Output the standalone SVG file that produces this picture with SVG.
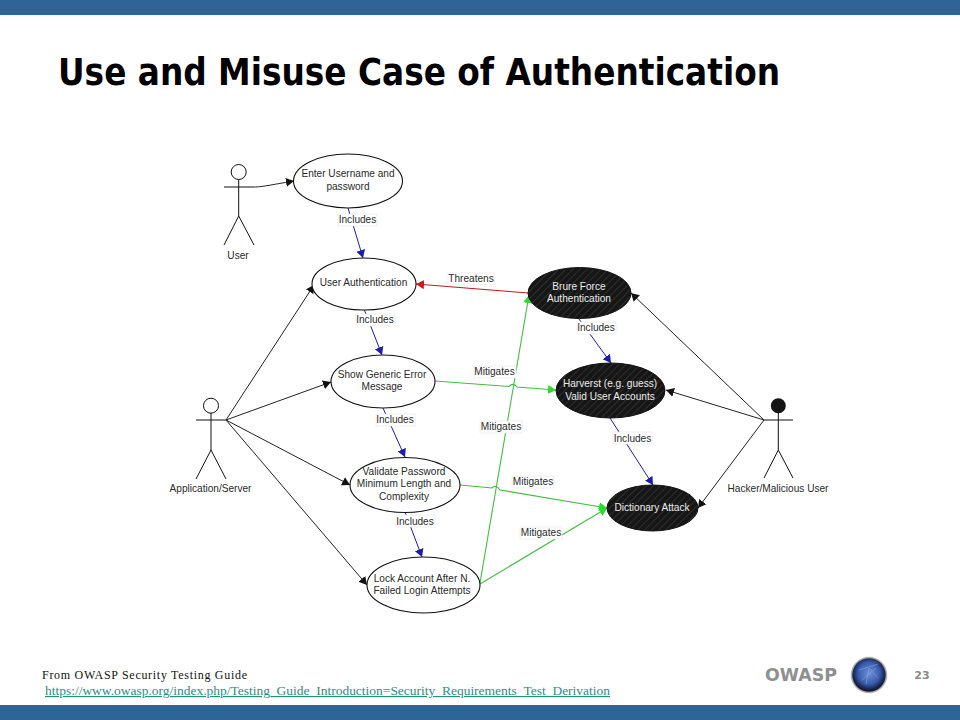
<svg xmlns="http://www.w3.org/2000/svg" width="960" height="720" viewBox="0 0 960 720">
<style>
text{font-family:"Liberation Sans",Arial,sans-serif;font-size:10.1px;fill:#2a2a2a;text-anchor:middle}
.u{fill:#fff;stroke:#111;stroke-width:1.1}
.m{fill:url(#hatch);stroke:#111;stroke-width:1}
.w{fill:#ececec}
.a{fill:none;stroke:#111;stroke-width:1}
.k{fill:none;stroke:#222;stroke-width:1;marker-end:url(#ak)}
.b{fill:none;stroke:#1c1ca8;stroke-width:1;marker-end:url(#ab)}
.g{fill:none;stroke:#45bb45;stroke-width:1.100;marker-end:url(#ag)}
.r{fill:none;stroke:#b81c1c;stroke-width:1;marker-end:url(#ar)}
.lb{fill:#fff;stroke:#e4e4e4;stroke-width:.6}
</style>
<defs>
<pattern id="hatch" width="5" height="5" patternUnits="userSpaceOnUse" patternTransform="rotate(45)">
<rect width="5" height="5" fill="#161616"/><rect width="1" height="5" fill="#2e2e2e"/>
</pattern>
<marker id="ak" markerWidth="9" markerHeight="10" refX="8" refY="5" orient="auto" markerUnits="userSpaceOnUse"><path d="M0 .5L8 5L0 9.500Z" fill="#111"/></marker>
<marker id="ab" markerWidth="9" markerHeight="10" refX="8" refY="5" orient="auto" markerUnits="userSpaceOnUse"><path d="M0 .5L8 5L0 9.500Z" fill="#1c1ca8"/></marker>
<marker id="ag" markerWidth="9" markerHeight="10" refX="8" refY="5" orient="auto" markerUnits="userSpaceOnUse"><path d="M0 .5L8 5L0 9.500Z" fill="#2bdc2b"/></marker>
<marker id="ar" markerWidth="9" markerHeight="10" refX="8" refY="5" orient="auto" markerUnits="userSpaceOnUse"><path d="M0 .5L8 5L0 9.500Z" fill="#d01818"/></marker>
<radialGradient id="globe" cx="50%" cy="45%" r="55%"><stop offset="0" stop-color="#6f8fd8"/><stop offset=".6" stop-color="#3a5cac"/><stop offset=".88" stop-color="#17234f"/><stop offset="1" stop-color="#0c1024"/></radialGradient>
<radialGradient id="halo" cx="50%" cy="50%" r="50%"><stop offset=".85" stop-color="#555"/><stop offset="1" stop-color="#ddd"/></radialGradient>
</defs>
<rect width="960" height="720" fill="#fff"/>
<rect id="top-bar" width="960" height="15" fill="#2f6497"/>
<rect id="bottom-bar" y="705" width="960" height="15" fill="#2f6497"/>
<text id="title" x="58" y="85" textLength="722" lengthAdjust="spacingAndGlyphs" style="font-family:'DejaVu Sans',sans-serif;font-size:36.500px;font-weight:bold;fill:#000;text-anchor:start">Use and Misuse Case of Authentication</text>

<g id="connectors">
<path class="k" d="M254 187C262 187 270 185 294 181"/>
<path class="k" d="M226 420L314 285"/>
<path class="k" d="M226 420L331 382"/>
<path class="k" d="M226 420L350 485"/>
<path class="k" d="M226 420L367 585"/>
<path class="k" d="M764 420L631 293"/>
<path class="k" d="M764 420L666 390"/>
<path class="k" d="M764 420L698 508"/>
<path class="b" d="M348 208L363 258"/>
<path class="b" d="M364 309L382 355"/>
<path class="b" d="M383 408L405 457"/>
<path class="b" d="M405 512L422 557"/>
<path class="b" d="M579 319L611 363"/>
<path class="b" d="M610 418L653 485"/>
<path class="r" d="M528 293L416 284"/>
<path class="g" d="M435 381L509 386.500Q513 382 517 387L556 390"/>
<path class="g" d="M460 485L492 488Q496 484 500 490L607 508"/>
<path class="g" d="M480 583L529 295"/>
<path class="g" d="M480 584L607 508"/>
</g>

<g id="edge-labels">
<rect class="lb" x="338" y="214" width="39" height="12"/><text x="357.500" y="223">Includes</text>
<rect class="lb" x="356" y="314" width="39" height="12"/><text x="375" y="323">Includes</text>
<rect class="lb" x="376" y="414" width="39" height="12"/><text x="395" y="423">Includes</text>
<rect class="lb" x="396" y="515" width="39" height="12"/><text x="415" y="524.500">Includes</text>
<rect class="lb" x="577" y="322" width="39" height="12"/><text x="596" y="331">Includes</text>
<rect class="lb" x="613" y="432" width="39" height="12"/><text x="632.500" y="441.500">Includes</text>
<rect class="lb" x="448" y="273" width="46" height="12"/><text x="471" y="282">Threatens</text>
<rect class="lb" x="474" y="366" width="42" height="12"/><text x="494.500" y="375">Mitigates</text>
<rect class="lb" x="480" y="421" width="42" height="12"/><text x="501" y="430">Mitigates</text>
<rect class="lb" x="512" y="476" width="42" height="12"/><text x="533" y="485">Mitigates</text>
<rect class="lb" x="520" y="527" width="42" height="12"/><text x="541" y="536">Mitigates</text>
</g>

<g id="actor-user"><circle class="a" cx="238.700" cy="172" r="7.500" fill="#fff"/><path class="a" d="M238.700 179.500V216M224 187H254M238.700 216L224 245M238.700 216L254 245"/><text x="238" y="259">User</text></g>
<g id="actor-app"><circle class="a" cx="211" cy="405.700" r="7.500"/><path class="a" d="M211 413V450M196 420H226M211 450L196 479M211 450L226 479"/><text x="210.500" y="492">Application/Server</text></g>
<g id="actor-hacker"><circle cx="778.300" cy="405.700" r="7.500" fill="#141414"/><path class="a" d="M778.300 413V450M764 420H793M778.300 450L764 478M778.300 450L793 478"/><text x="778" y="492">Hacker/Malicious User</text></g>

<g id="uc-enter"><ellipse class="u" cx="348" cy="181" rx="54.500" ry="27"/><text x="348" y="177">Enter Username and</text><text x="348" y="189.500">password</text></g>
<g id="uc-auth"><ellipse class="u" cx="364" cy="284" rx="52" ry="26"/><text x="363.500" y="286">User Authentication</text></g>
<g id="uc-error"><ellipse class="u" cx="383" cy="381.500" rx="52" ry="26.500"/><text x="382" y="378">Show Generic Error</text><text x="382" y="390">Message</text></g>
<g id="uc-validate"><ellipse class="u" cx="405" cy="485" rx="55" ry="27.500"/><text x="404" y="475">Validate Password</text><text x="404" y="487">Minimum Length and</text><text x="404" y="499.500">Complexity</text></g>
<g id="uc-lock"><ellipse class="u" cx="423.500" cy="585" rx="56.500" ry="28"/><text x="422" y="581.500">Lock Account After N.</text><text x="422" y="594">Failed Login Attempts</text></g>
<g id="mc-brute"><ellipse class="m" cx="579.500" cy="293" rx="51.500" ry="25.500"/><text class="w" x="579" y="289.500">Brure Force</text><text class="w" x="579" y="302">Authentication</text></g>
<g id="mc-harvest"><ellipse class="m" cx="610.500" cy="390.500" rx="54.500" ry="27.500"/><text class="w" x="610" y="387">Harverst (e.g. guess)</text><text class="w" x="610" y="399.500">Valid User Accounts</text></g>
<g id="mc-dict"><ellipse class="m" cx="652.500" cy="508" rx="45.500" ry="23"/><text class="w" x="652" y="510.500">Dictionary Attack</text></g>

<g id="footer">
<text x="42" y="679" textLength="205" style="font-family:'Liberation Serif',serif;font-size:12px;fill:#111;text-anchor:start">From OWASP  Security  Testing Guide</text>
<text x="45" y="695" textLength="565" lengthAdjust="spacingAndGlyphs" style="font-family:'Liberation Serif',serif;font-size:12px;fill:#2a8f80;text-anchor:start;text-decoration:underline">https://www.owasp.org/index.php/Testing_Guide_Introduction=Security_Requirements_Test_Derivation</text>
<text x="801" y="681" style="font-family:'DejaVu Sans',sans-serif;font-size:17px;font-weight:bold;fill:#8f8f8f" textLength="72" lengthAdjust="spacingAndGlyphs">OWASP</text>
<circle cx="869" cy="675" r="18.500" fill="url(#halo)"/>
<circle cx="869" cy="675" r="16.500" fill="url(#globe)"/>
<path d="M859 670L878 664M869 668L866 684M869 668L878 678M862 680L876 668" fill="none" stroke="#8fa8e4" stroke-width=".8" opacity=".7"/>
<text x="922" y="679" style="font-family:'DejaVu Sans',sans-serif;font-size:11px;font-weight:bold;fill:#8a8a8a">23</text>
</g>
</svg>
